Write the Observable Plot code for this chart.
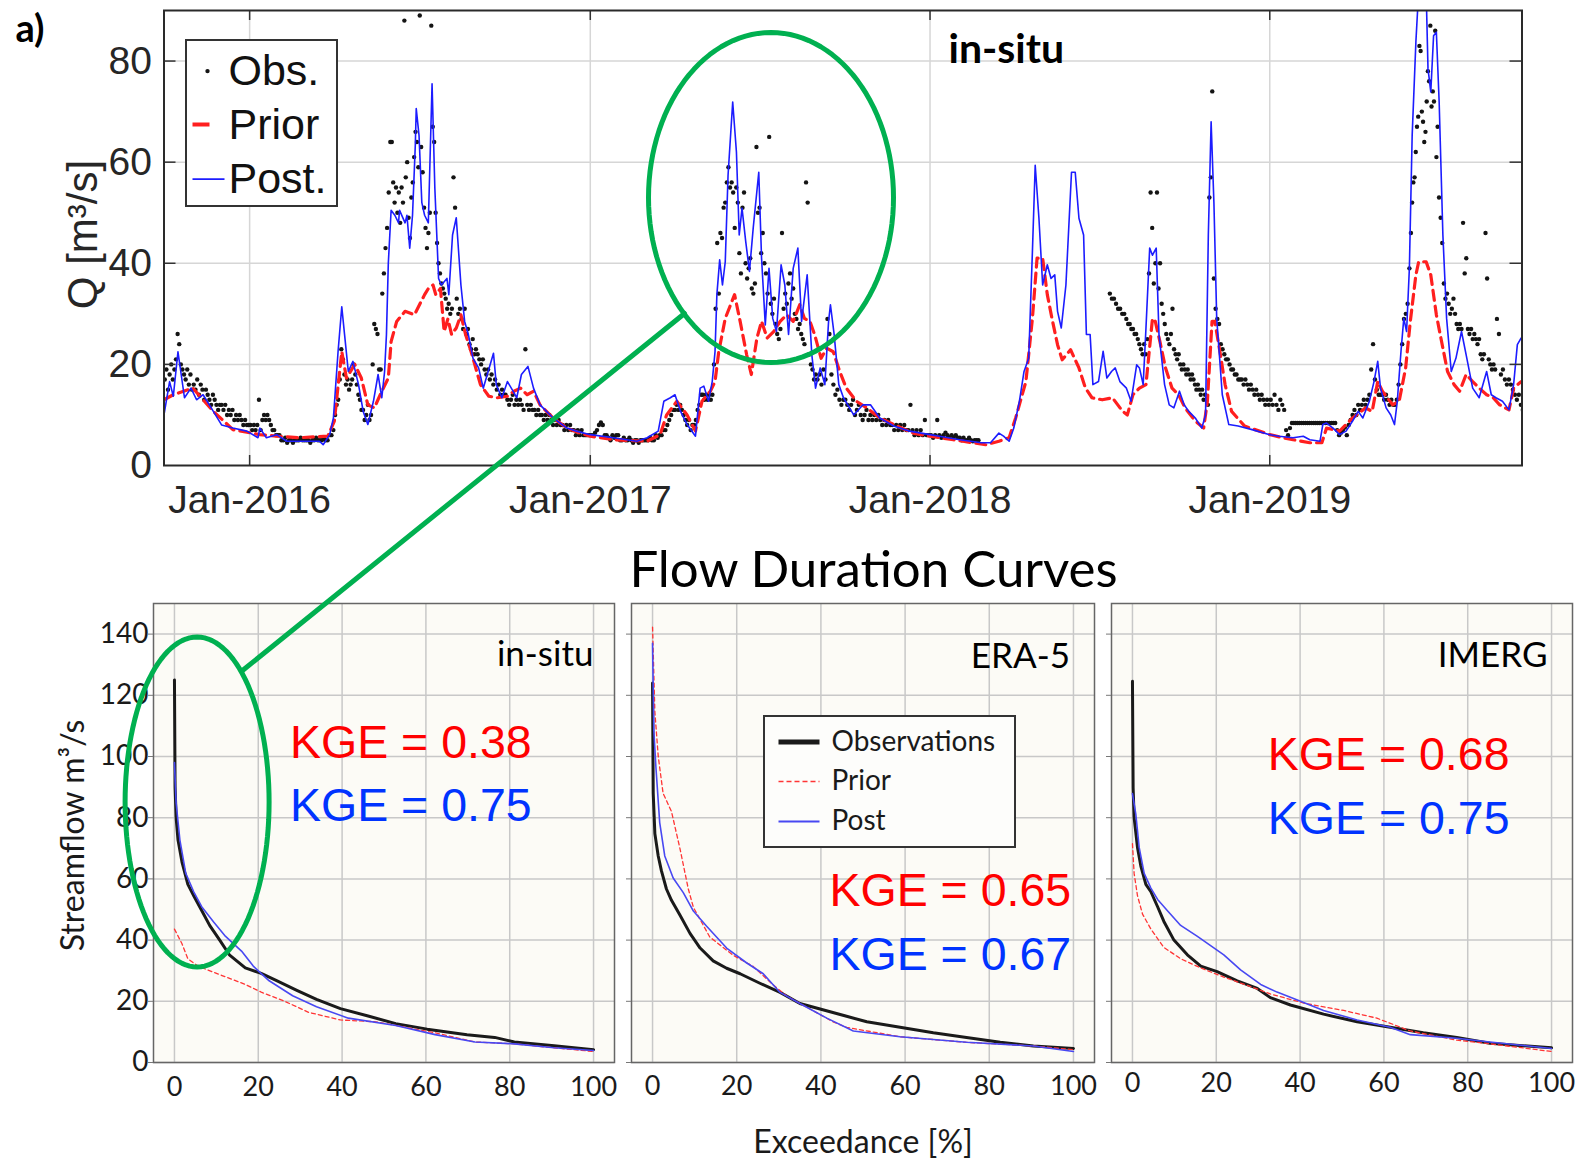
<!DOCTYPE html>
<html>
<head>
<meta charset="utf-8">
<script src="https://cdn.jsdelivr.net/npm/d3@7"></script>
<script src="https://cdn.jsdelivr.net/npm/@observablehq/plot@0.6"></script>
<style>
  html, body { margin: 0; padding: 0; background: #ffffff; }
  #page { position: relative; width: 1582px; height: 1161px; overflow: hidden; background: #ffffff; }
  #page svg { position: absolute; }
</style>
</head>
<body>
<div id="page"></div>
<script>
// ---------------------------------------------------------------
// Daily streamflow at the gauge, water years 2016-2019 (m3/s)
// ---------------------------------------------------------------

// Observed flow, one row per month from Oct 2015 to Sep 2019,
// values spread evenly through the month (null / empty = no record)
const obsFirstMonth = "2015-10-01";
const obsByMonth = [
  [17, 19, 15, 18, 20, 17, 19, 21, 26, 24, 20, 19, 18, 17, 19, 16, 18, 15],        // 2015-10
  [16, 15, 17, 14, 16, 15, 13, 15, 14, 13, 12, 14, 13, 12, 11, 12],                // 2015-11
  [12, 11, 12, 10, 11, 10, 11, 9, 10, 9, 10, 9, 8, 9, 8, 8],                       // 2015-12
  [8, 7, 8, 7, 8, 13, 7, 9, 10, 9, 10, 9, 8, 7, 7, 6, 6],                          // 2016-01
  [6, 5, 5, 5.5, 4.5, 5, 5, 4.5, 5, 5, 5, 5.5, 5, 5],                              // 2016-02
  [5, 5, 4.5, 5, 5, 5.5, 5, 5, 5, 5.5, 5, 5, 6, 6, 7],                             // 2016-03
  [10, 12, 13, 17, 23, 21, 18, 16, 17, 15, 16, 17, 20, 18, 16, 14, 13, 11],        // 2016-04
  [11, 9, 10, 12, 9, 10, 20, 28, 27, 26, 19, 19, 34, 38, 43, 47, 54, 64],          // 2016-05
  [64, 56, 52, 55, 50, 54, 48, 55, 52, 88, 57, 60, 49, 45, 53, 56, 61, 66, 64, 59], // 2016-06
  [89, 63, 58, 51, 47, 43, 46, 50, 87, 67, 64, 50, 44, 40, 38, 36, 35, 34, 33, 31], // 2016-07
  [32, 30, 31, 57, 51, 33, 30, 31, 29, 27, 31, 26, 27, 24, 23, 25, 22, 23],        // 2016-08
  [22, 21, 20, 21, 19, 18, 19, 17, 18, 16, 17, 15, 16, 14, 15, 14],                // 2016-09
  [14, 13, 12, 13, 14, 12, 13, 12, 13, 12, 11, 23, 12, 11, 12, 11],                // 2016-10
  [11, 10, 11, 10, 10, 9, 10, 9, 10, 9, 8, 9, 8, 9, 8],                            // 2016-11
  [8, 7, 8, 7, 8, 7, 7, 6, 7, 6, 7, 6, 6, 6, 6],                                   // 2016-12
  [6, 6, 6.5, 7, 8, 8.5, 8, 6, 6, 5.5, 5, 6, 5.5, 6, 6],                           // 2017-01
  [5, 5, 5.5, 5, 5, 5.5, 5, 4.5, 5, 5, 4.5, 5, 5, 5],                              // 2017-02
  [5, 5, 5.5, 5, 5, 6, 5.5, 6, 6, 7, 7, 8, 9, 10, 11],                             // 2017-03
  [11, 12, 11, 12, 11, 10, 9, 8, 9, 7, 8, 8, 9, 11, 12, 14],                       // 2017-04
  [14, 13, 14, 13, 14, 13, 14, 20, 31, 44, 34, 46, 45, 51, 52, 56, 59, 55],        // 2017-05
  [56, 54, 47, 55, 52, 42, 38, 51, 54, 40, 37, 39, 41, 35, 34, 36, 63, 50],        // 2017-06
  [51, 42, 46, 40, 38, 34, 65, 32, 30, 33, 28, 26, 25, 27, 46, 31, 34, 32],        // 2017-07
  [36, 38, 33, 35, 30, 29, 27, 28, 26, 25, 24, 56, 52, 22, 20, 19, 17, 18],        // 2017-08
  [17, 18, 16, 19, 17, 29, 26, 18, 16, 14, 15, 13, 12, 13],                        // 2017-09
  [13, 12, 11, 12, 13, 10, 11, 12, 10, 9, 10, 11, 9, 10, 9],                       // 2017-10
  [10, 9, 10, 9, 8, 9, 8, 9, 8, 8, 7, 8, 7, 8],                                    // 2017-11
  [7, 8, 7, 7, 12, 7, 6, 7, 6, 7, 6, 9, 6, 6],                                     // 2017-12
  [6, 5.5, 6, 9, 6, 5.5, 6, 6.5, 6, 5.5, 6, 5.5, 6, 5.5],                          // 2018-01
  [5.5, 5, 5.5, 5, 5, 5.5, 5, 4.8, 5, 5, 5, null, null, null],                     // 2018-02
  [],                                                                              // 2018-03
  [],                                                                              // 2018-04
  [],                                                                              // 2018-05
  [],                                                                              // 2018-06
  [null, null, null, null, null, 34, 33, 33, 32, 31, 31, 30, 30, 29],              // 2018-07
  [28, 28, 27, 27, 26, 26, 25, 24, 23, 22, 24, 22, 25, 38, 54, 47, 36, 40],        // 2018-08
  [54, 35, 40, 32, 30, 28, 26, 25, 24, 26, 31, 23, 22, 21, 22, 20, 19, 20],        // 2018-09
  [19, 18, 19, 18, 17, 18, 17, 16, 15, 16, 15, 14, 15, 13, 14, 13, 12, 53, 57, 74], // 2018-10
  [37, 31, 29, 28, 24, 23, 22, 21, 21, 20, 19, 19, 18, 18, 17, 17],                // 2018-11
  [17, 16, 17, 16, 15, 16, 15, 14, 15, 14, 13, 14, 13, 12, 13, 12],                // 2018-12
  [13, 12, 14, 12, 11, 13, 12, 11, 7, 6, 7.4, 8.4, 8.4, 8.4, 8.4],                 // 2019-01
  [8.4, 8.4, 8.4, 8.4, 8.4, 8.4, 8.4, 8.4, 8.4, 8.4, 8.4, 8.4, 8.4],               // 2019-02
  [8.4, 8.4, 8.4, 8.4, 8.4, 8.4, 7, 6, 6.5, 7, 7.5, 6, 8, 9, 10],                  // 2019-03
  [11, 10, 12, 11, 12, 13, 12, 13, 14, 19, 24, 17, 15, 14, 14],                    // 2019-04
  [14, 13, 14, 13, 12, 13, 12, 12, 13, 16, 20, 24, 29, 30, 32, 39],                // 2019-05
  [46, 52, 56, 57, 62, 67, 69, 83, 82, 70, 68, 64, 66, 72, 78, 76, 87, 71, 74, 72, 86, 61, 67], // 2019-06
  [53, 49, 44, 36, 33, 34, 32, 30, 31, 33, 30, 28, 27, 28, 27, 48, 38, 41],        // 2019-07
  [27, 26, 27, 25, 26, 25, 24, 25, 22, 21, 22, 46, 37, 21, 20, 19, 20, 19],        // 2019-08
  [29, 26, 18, 19, 17, 16, 17, 16, 15, 14, 13, 14, 12, 11]                         // 2019-09
];

// Open-loop model run (prior)
const priorPts = [
  ["2015-10-01", 13], ["2015-10-11", 14], ["2015-11-01", 15.3], ["2015-11-23", 10.7],
  ["2015-12-14", 7.1], ["2016-01-12", 6.1], ["2016-01-30", 5.8], ["2016-02-24", 5.5],
  ["2016-03-25", 5.8], ["2016-04-01", 8.8], ["2016-04-09", 22.5], ["2016-04-14", 17.3],
  ["2016-04-23", 20], ["2016-04-30", 17.3], ["2016-05-07", 12], ["2016-05-14", 11.4],
  ["2016-05-22", 14.7], ["2016-05-29", 17.3], ["2016-06-01", 24.5], ["2016-06-07", 28.5],
  ["2016-06-16", 30.5], ["2016-06-26", 29.8], ["2016-07-07", 33.8], ["2016-07-11", 35],
  ["2016-07-16", 35.7], ["2016-07-19", 33.8], ["2016-07-24", 35], ["2016-07-28", 26.5],
  ["2016-08-01", 29], ["2016-08-05", 25.9], ["2016-08-10", 27.2], ["2016-08-15", 29.8],
  ["2016-08-20", 25.9], ["2016-08-26", 22.5], ["2016-09-05", 16], ["2016-09-14", 13.7],
  ["2016-09-23", 13.4], ["2016-10-04", 13.7], ["2016-10-11", 14.7], ["2016-10-18", 15.3],
  ["2016-10-25", 14], ["2016-11-01", 14.7], ["2016-11-08", 12], ["2016-11-22", 9.4],
  ["2016-12-07", 7.4], ["2016-12-21", 6.4], ["2017-01-01", 5.8], ["2017-01-26", 5.1],
  ["2017-03-03", 4.8], ["2017-03-17", 6.1], ["2017-03-24", 10], ["2017-04-04", 12.7],
  ["2017-04-15", 10], ["2017-04-24", 6.8], ["2017-05-01", 12.7], ["2017-05-10", 14.7],
  ["2017-05-15", 16.6], ["2017-05-19", 22.5], ["2017-05-26", 29.1], ["2017-06-02", 32.4],
  ["2017-06-05", 33.8], ["2017-06-11", 28.5], ["2017-06-18", 21.9], ["2017-06-23", 18],
  ["2017-06-29", 25.2], ["2017-07-04", 28.5], ["2017-07-10", 25.2], ["2017-07-17", 26.5],
  ["2017-07-24", 28.5], ["2017-07-31", 29.8], ["2017-08-07", 28.5], ["2017-08-14", 31.8],
  ["2017-08-19", 29.1], ["2017-08-25", 28.5], ["2017-08-30", 25.9], ["2017-09-06", 21.2],
  ["2017-09-12", 23.2], ["2017-09-19", 22.5], ["2017-09-26", 18.6], ["2017-10-03", 15.3],
  ["2017-10-14", 12.7], ["2017-10-25", 11.4], ["2017-11-08", 9.4], ["2017-11-23", 8.1],
  ["2017-12-14", 6.4], ["2018-01-01", 5.8], ["2018-01-26", 5.1], ["2018-03-02", 4.1],
  ["2018-03-16", 4.8], ["2018-03-27", 5.5], ["2018-04-03", 9.4], ["2018-04-14", 16.6],
  ["2018-04-21", 29.1], ["2018-04-26", 41], ["2018-05-02", 41], ["2018-05-07", 33.8],
  ["2018-05-12", 29.1], ["2018-05-18", 23.9], ["2018-05-23", 20.9], ["2018-06-01", 22.9],
  ["2018-06-10", 19.3], ["2018-06-17", 15.3], ["2018-06-24", 13.4], ["2018-07-05", 13],
  ["2018-07-16", 13.4], ["2018-07-27", 10.7], ["2018-08-01", 10], ["2018-08-07", 14],
  ["2018-08-14", 15.3], ["2018-08-21", 16], ["2018-08-28", 29.1], ["2018-08-31", 28.5],
  ["2018-09-05", 24.5], ["2018-09-11", 19.3], ["2018-09-18", 15.3], ["2018-09-25", 14],
  ["2018-10-02", 11.4], ["2018-10-13", 8.8], ["2018-10-22", 7.4], ["2018-10-26", 12.7],
  ["2018-10-31", 28.5], ["2018-11-03", 28.5], ["2018-11-09", 21.9], ["2018-11-14", 16],
  ["2018-11-21", 10.7], ["2018-12-05", 7.8], ["2019-01-01", 6.1], ["2019-01-15", 5.5],
  ["2019-01-26", 5.1], ["2019-02-13", 4.5], ["2019-02-26", 4.5], ["2019-03-03", 7.4],
  ["2019-03-17", 6.8], ["2019-03-31", 9.4], ["2019-04-14", 11.4], ["2019-04-21", 10.7],
  ["2019-04-27", 16.6], ["2019-05-02", 14.7], ["2019-05-13", 12], ["2019-05-20", 12.7],
  ["2019-05-27", 19.3], ["2019-06-01", 28.5], ["2019-06-07", 37.7], ["2019-06-10", 40.3],
  ["2019-06-18", 40.3], ["2019-06-23", 37.7], ["2019-06-29", 29.8], ["2019-07-06", 23.2],
  ["2019-07-11", 18.6], ["2019-07-18", 16], ["2019-07-24", 14.7], ["2019-07-31", 18],
  ["2019-08-07", 16.6], ["2019-08-14", 15.3], ["2019-08-22", 14], ["2019-08-29", 13.4],
  ["2019-09-05", 12], ["2019-09-15", 11], ["2019-09-20", 15.3], ["2019-09-28", 16.6]
];

// Run after data assimilation (posterior)
const postPts = [
  ["2015-10-01", 10], ["2015-10-07", 16.6], ["2015-10-11", 13.7], ["2015-10-16", 22.5],
  ["2015-10-23", 13.4], ["2015-10-30", 15.3], ["2015-11-05", 13], ["2015-11-12", 14],
  ["2015-11-23", 10.7], ["2015-12-02", 8], ["2015-12-14", 7.4], ["2015-12-29", 6.8],
  ["2016-01-10", 5.5], ["2016-01-12", 7.4], ["2016-01-19", 5.5], ["2016-01-30", 6.1],
  ["2016-02-10", 4.8], ["2016-03-16", 4.8], ["2016-03-20", 4.1], ["2016-03-27", 6.1],
  ["2016-03-31", 9.4], ["2016-04-05", 22.5], ["2016-04-09", 31.4], ["2016-04-12", 25.9],
  ["2016-04-16", 18.6], ["2016-04-21", 20.6], ["2016-04-27", 16], ["2016-05-02", 10.7],
  ["2016-05-07", 8.1], ["2016-05-13", 12.7], ["2016-05-18", 18], ["2016-05-22", 13.4],
  ["2016-05-25", 18.6], ["2016-05-27", 25.9], ["2016-05-29", 40], ["2016-06-01", 50.5],
  ["2016-06-05", 49.5], ["2016-06-09", 48], ["2016-06-10", 50.5], ["2016-06-16", 48],
  ["2016-06-18", 49.5], ["2016-06-21", 43], ["2016-06-24", 49.5], ["2016-06-27", 63.4],
  ["2016-06-28", 70.6], ["2016-07-01", 65.3], ["2016-07-04", 52], ["2016-07-07", 49.5],
  ["2016-07-11", 48], ["2016-07-15", 75.5], ["2016-07-18", 54.8], ["2016-07-22", 37],
  ["2016-07-25", 35.7], ["2016-07-31", 37], ["2016-08-02", 33.8], ["2016-08-06", 45.6],
  ["2016-08-10", 49], ["2016-08-15", 35.7], ["2016-08-19", 28.5], ["2016-08-23", 25.9],
  ["2016-08-28", 21.2], ["2016-09-03", 19.3], ["2016-09-08", 15.3], ["2016-09-19", 22.2],
  ["2016-09-22", 16], ["2016-09-28", 13.4], ["2016-10-04", 16.6], ["2016-10-10", 14.7],
  ["2016-10-14", 13.4], ["2016-10-19", 18], ["2016-10-26", 19.6], ["2016-11-01", 15.3],
  ["2016-11-08", 12], ["2016-11-15", 10.7], ["2016-11-22", 9.4], ["2016-12-07", 7.4],
  ["2016-12-17", 6.8], ["2017-01-01", 6.1], ["2017-01-26", 5.5], ["2017-02-20", 4.8],
  ["2017-03-03", 5.5], ["2017-03-15", 6.8], ["2017-03-21", 12.7], ["2017-03-28", 13.4],
  ["2017-04-02", 14], ["2017-04-08", 10.7], ["2017-04-15", 8.1], ["2017-04-24", 5.8],
  ["2017-04-29", 15.3], ["2017-05-03", 15.7], ["2017-05-08", 12.7], ["2017-05-12", 16.6],
  ["2017-05-15", 22.5], ["2017-05-17", 33.8], ["2017-05-20", 40.7], ["2017-05-23", 35.7],
  ["2017-05-26", 40.3], ["2017-05-29", 57.4], ["2017-06-03", 71.9], ["2017-06-07", 62],
  ["2017-06-10", 45.6], ["2017-06-13", 50.9], ["2017-06-17", 44.3], ["2017-06-21", 38.4],
  ["2017-06-25", 46.9], ["2017-07-01", 58], ["2017-07-04", 41], ["2017-07-08", 27.8],
  ["2017-07-12", 39], ["2017-07-16", 29.1], ["2017-07-20", 26.5], ["2017-07-25", 39.7],
  ["2017-07-29", 35.7], ["2017-08-02", 25.9], ["2017-08-07", 39], ["2017-08-12", 43],
  ["2017-08-16", 28.5], ["2017-08-22", 37.7], ["2017-08-27", 21.9], ["2017-08-31", 15.3],
  ["2017-09-05", 19.3], ["2017-09-10", 16], ["2017-09-14", 28.5], ["2017-09-16", 31.8],
  ["2017-09-20", 25.9], ["2017-09-25", 16], ["2017-09-30", 13.4], ["2017-10-11", 10],
  ["2017-10-21", 12], ["2017-10-29", 12], ["2017-11-08", 9.4], ["2017-11-23", 7.8],
  ["2017-12-10", 6.8], ["2018-01-01", 6.1], ["2018-01-11", 5.8], ["2018-02-02", 5.1],
  ["2018-02-25", 4.5], ["2018-03-07", 4.5], ["2018-03-16", 6.4], ["2018-03-21", 5.8],
  ["2018-03-27", 4.8], ["2018-04-01", 7.4], ["2018-04-07", 12.7], ["2018-04-12", 18.6],
  ["2018-04-17", 21.2], ["2018-04-21", 42.3], ["2018-04-24", 59.4], ["2018-04-28", 48.9],
  ["2018-05-02", 35.7], ["2018-05-07", 39.7], ["2018-05-11", 37], ["2018-05-15", 37.7],
  ["2018-05-18", 30.5], ["2018-05-22", 27.2], ["2018-05-27", 35.7], ["2018-06-02", 58],
  ["2018-06-06", 58], ["2018-06-10", 48.9], ["2018-06-15", 45.6], ["2018-06-18", 25.9],
  ["2018-06-22", 25.9], ["2018-06-25", 16], ["2018-07-01", 16.6], ["2018-07-06", 22.6],
  ["2018-07-10", 17.3], ["2018-07-15", 18.6], ["2018-07-19", 19.3], ["2018-07-24", 16.6],
  ["2018-07-31", 15.3], ["2018-08-05", 12.7], ["2018-08-11", 19.9], ["2018-08-14", 19.3],
  ["2018-08-18", 16], ["2018-08-21", 27.2], ["2018-08-25", 43], ["2018-08-28", 41.6],
  ["2018-09-01", 43], ["2018-09-04", 25.9], ["2018-09-10", 16], ["2018-09-15", 12],
  ["2018-09-20", 11.4], ["2018-09-26", 14.7], ["2018-10-01", 12], ["2018-10-06", 10.7],
  ["2018-10-13", 9.4], ["2018-10-20", 7.4], ["2018-10-24", 10], ["2018-10-27", 45.6],
  ["2018-10-30", 68], ["2018-11-02", 52], ["2018-11-05", 29.1], ["2018-11-11", 14],
  ["2018-11-18", 8.1], ["2018-11-28", 7.8], ["2018-12-13", 7.1], ["2019-01-01", 6.1],
  ["2019-01-11", 5.8], ["2019-01-26", 5.5], ["2019-02-06", 5.8], ["2019-02-13", 5.1],
  ["2019-02-24", 4.8], ["2019-02-27", 8.1], ["2019-03-03", 8.4], ["2019-03-10", 7.4],
  ["2019-03-17", 6.1], ["2019-03-24", 6.8], ["2019-03-31", 8.8], ["2019-04-06", 10.7],
  ["2019-04-11", 9.4], ["2019-04-18", 12.7], ["2019-04-23", 16.6], ["2019-04-27", 20.6],
  ["2019-04-30", 15.3], ["2019-05-06", 11.4], ["2019-05-11", 10], ["2019-05-15", 8.1],
  ["2019-05-18", 12.7], ["2019-05-22", 22.6], ["2019-05-25", 29.1], ["2019-05-28", 26.5],
  ["2019-05-31", 39], ["2019-06-03", 65.3], ["2019-06-07", 83.8], ["2019-06-10", 94],
  ["2019-06-18", 94], ["2019-06-20", 78.5], ["2019-06-23", 73.9], ["2019-06-26", 85],
  ["2019-06-29", 85.7], ["2019-07-02", 71.9], ["2019-07-06", 45.6], ["2019-07-10", 29.1],
  ["2019-07-15", 18.6], ["2019-07-20", 21.2], ["2019-07-26", 26.5], ["2019-07-31", 21.9],
  ["2019-08-07", 15.3], ["2019-08-14", 13.4], ["2019-08-22", 18.6], ["2019-08-27", 14],
  ["2019-09-01", 13.4], ["2019-09-08", 12.7], ["2019-09-15", 11], ["2019-09-20", 16],
  ["2019-09-24", 23.9], ["2019-09-28", 25.2]
];

const seriesXDomain = ["2015-10-01", "2019-09-29"];
const seriesYDomain = [0, 90];
const seriesXTicks = ["2016-01-01", "2017-01-01", "2018-01-01", "2019-01-01"];
const seriesYTicks = [0, 20, 40, 60, 80];

// ---------------------------------------------------------------
// Flow duration curves: [exceedance %, streamflow m3/s]
// ---------------------------------------------------------------
const fdcInSituObs = [[0,125],[0.15,90],[0.4,80],[0.85,72.7],[1.8,65.5],[3.2,58.2],[4.6,54.5],[6.5,49.7],[8.4,44.8],[10.8,40],[13.1,35.2],[16.9,30.9],[20.7,29.1],[24.5,26.7],[29.2,23.6],[33.9,20.6],[39.6,17.6],[46.2,15.2],[52.8,12.7],[60.3,10.9],[69.8,9.1],[76.4,8.2],[81.1,6.7],[90.6,5.5],[100,4.2]];
const fdcInSituPrior = [[0,43.6],[1.8,38.8],[3.2,33.9],[5.6,31.5],[11.2,28.5],[16.9,25.5],[20.7,23],[26.3,20],[32,16.4],[39.6,13.9],[48.1,13.3],[57.5,10.9],[62.2,9.7],[71.7,6.7],[81.1,6.1],[90.6,4.8],[100,3.6]];
const fdcInSituPost = [[0,98],[0.4,84.8],[1.3,72.7],[2.7,61.8],[4.6,55.8],[6.5,50.9],[9.3,46],[12.2,41.2],[16,36.4],[18.8,31.5],[22.6,26.7],[28.2,21.8],[33.9,18.2],[41.5,14.5],[52.8,12.1],[62.2,9.1],[71.7,6.7],[81.1,6.1],[90.6,4.8],[100,3.9]];

const fdcEra5Obs = [[0,124],[0.16,88],[0.55,74.8],[1.35,67.5],[2.1,62.7],[3.3,56.7],[4.5,53],[6.5,48.2],[8.9,42.2],[11.3,37.4],[14.4,33.2],[17.6,30.8],[20.8,29],[25.5,25.9],[30.3,22.9],[35,19.3],[39.8,17.5],[46.1,15.1],[50.9,13.3],[58.8,11.5],[66.7,9.7],[74.6,8.2],[82.6,6.6],[90.5,5.4],[100,4.6]];
const fdcEra5Prior = [[0,142.3],[0.55,114.6],[1.35,100.1],[2.5,88],[4.5,82],[6.5,70],[8.5,56.7],[9.7,50.7],[13.6,41],[19.2,35],[23.9,31.4],[28.7,25.3],[31.9,21.7],[36.6,18.1],[42.9,13.3],[46.1,11.5],[58.8,8.4],[74.6,6.6],[90.5,5.4],[100,4.2]];
const fdcEra5Post = [[0,137],[0.3,108.6],[0.8,96.5],[1.7,78.4],[2.9,67.5],[4.9,60.3],[7.3,55.5],[9.7,49.5],[12.8,44.6],[17.6,37.4],[22.3,32.6],[26.3,29],[30.3,22.9],[35,19.3],[41.4,14.5],[47.7,10.3],[58.8,8.4],[74.6,6.6],[90.5,5.4],[100,3.6]];

const fdcImergObs = [[0,124.6],[0.16,89.7],[0.4,80],[1.2,70.3],[2,64.2],[3.2,58.2],[4.4,55.8],[6,50.9],[7.5,46.1],[9.9,40],[13.1,35.2],[16.3,31.5],[20.2,29.7],[25,26.7],[29.8,24.2],[32.9,21.2],[37.7,18.8],[45.6,15.8],[53.6,13.3],[61.5,11.5],[69.4,9.7],[77.4,8.2],[85.3,6.3],[100,4.8]];
const fdcImergPrior = [[0,71.5],[0.4,61.8],[1.2,54.5],[2.4,48.5],[4.4,43.6],[7.5,37.6],[11.5,33.9],[16.3,30.9],[21.8,27.9],[28.2,24.8],[32.9,22.4],[40.9,19.4],[50.4,17],[58.3,14.5],[66.3,10.3],[77.4,7.3],[85.3,6.1],[100,3.6]];
const fdcImergPost = [[0,87.9],[0.8,81.2],[1.6,70.3],[2.8,61.8],[4.4,57],[6,53.3],[8.3,49.7],[11.5,44.8],[15.5,41.2],[21.8,35.2],[25.8,30.3],[30.6,25.5],[34.5,23],[40.1,20],[45.6,17],[53.6,13.9],[61.5,11.5],[66.3,9.1],[77.4,7.9],[85.3,6.7],[100,4.6]];

const fdcNames = ["in-situ", "ERA-5", "IMERG"];
const kgePrior = ["0.38", "0.65", "0.68"];
const kgePost = ["0.75", "0.67", "0.75"];
const exceedTicks = [0, 20, 40, 60, 80, 100];
const flowTicks = [0, 20, 40, 60, 80, 100, 120, 140];

// ---------------------------------------------------------------
const page = document.getElementById("page");
const HELV = "'Liberation Sans', Arial, Helvetica, sans-serif";
const LATO = "Lato, 'Open Sans', sans-serif";
const C_OBS = "#141414", C_PRIOR = "#ff1f1f", C_POST = "#1c1cff";

function place(svg, left, top) {
  svg.style.left = left + "px";
  svg.style.top = top + "px";
  page.appendChild(svg);
}

// ---------- time series panel ----------
const obs = obsByMonth.flatMap((vals, k) => {
  const m0 = d3.utcMonth.offset(new Date(obsFirstMonth), k);
  const m1 = d3.utcMonth.offset(new Date(obsFirstMonth), k + 1);
  return vals.map((v, i) => ({date: new Date(+m0 + (i + 0.5) / vals.length * (m1 - m0)), q: v}))
             .filter(d => d.q != null);
});
const prior = priorPts.map(([d, v]) => ({date: new Date(d), q: v}));
const post = postPts.map(([d, v]) => ({date: new Date(d), q: v}));
const xTicks = seriesXTicks.map(d => new Date(d));

const TS = {left: 163.5, top: 10, w: 1358, h: 455};
const tsPlot = Plot.plot({
  width: 1582, height: 540,
  marginLeft: TS.left, marginRight: 1582 - TS.left - TS.w, marginTop: TS.top, marginBottom: 540 - TS.top - TS.h,
  style: {fontFamily: HELV, fontSize: "39px", color: "#262626", background: "transparent", overflow: "visible"},
  x: {type: "utc", domain: seriesXDomain.map(d => new Date(d)), label: null},
  y: {domain: seriesYDomain, label: null},
  marks: [
    Plot.frame({fill: "#ffffff"}),
    Plot.gridX(xTicks, {stroke: "#d6d6d6", strokeOpacity: 1, strokeWidth: 1.5}),
    Plot.gridY(seriesYTicks.slice(1), {stroke: "#d6d6d6", strokeOpacity: 1, strokeWidth: 1.5}),
    Plot.dot(obs, {x: "date", y: "q", r: 2.2, fill: C_OBS, stroke: null, clip: true}),
    Plot.line(prior, {x: "date", y: "q", stroke: C_PRIOR, strokeWidth: 3.2, strokeDasharray: "10,6", clip: true}),
    Plot.line(post, {x: "date", y: "q", stroke: C_POST, strokeWidth: 1.6, clip: true}),
    // inward tick marks on all four sides
    Plot.tickY(seriesYTicks.slice(1), {y: d => d, insetRight: TS.w - 12, stroke: "#333", strokeWidth: 1.5}),
    Plot.tickY(seriesYTicks.slice(1), {y: d => d, insetLeft: TS.w - 12, stroke: "#333", strokeWidth: 1.5}),
    Plot.tickX(xTicks, {x: d => d, insetTop: TS.h - 10, stroke: "#333", strokeWidth: 1.5}),
    Plot.tickX(xTicks, {x: d => d, insetBottom: TS.h - 10, stroke: "#333", strokeWidth: 1.5}),
    Plot.frame({stroke: "#2a2a2a", strokeWidth: 2}),
    Plot.axisX({ticks: xTicks, tickSize: 0, tickPadding: 20, label: null, tickFormat: d3.utcFormat("%b-%Y")}),
    Plot.axisY({ticks: seriesYTicks, tickSize: 0, tickPadding: 12, label: null})
  ]
});
place(tsPlot, 0, 0);

// ---------- flow duration curve panels ----------
function fdcPanel(frame, curves, opts) {
  const mL = 40, mR = 10, mT = 10, mB = 50;
  const p = Plot.plot({
    width: frame.w + mL + mR, height: frame.h + mT + mB,
    marginLeft: mL, marginRight: mR, marginTop: mT, marginBottom: mB,
    style: {fontFamily: LATO, fontSize: "27px", color: "#1a1a1a", background: "transparent", overflow: "visible"},
    x: {domain: [-5, 105], label: null},
    y: {domain: [0, 150], label: null},
    marks: [
      Plot.frame({fill: "#fcfbf6"}),
      Plot.gridX(exceedTicks, {stroke: "#c8c8c8", strokeOpacity: 1, strokeWidth: 1.5}),
      Plot.gridY(flowTicks, {stroke: "#c8c8c8", strokeOpacity: 1, strokeWidth: 1.5}),
      Plot.line(curves.obs, {x: d => d[0], y: d => d[1], stroke: "#1a1a1a", strokeWidth: 3}),
      Plot.line(curves.prior, {x: d => d[0], y: d => d[1], stroke: "#ff3535", strokeWidth: 1.3, strokeDasharray: "4,3"}),
      Plot.line(curves.post, {x: d => d[0], y: d => d[1], stroke: "#4848f2", strokeWidth: 1.6}),
      Plot.frame({stroke: "#666666", strokeWidth: 1.5}),
      Plot.axisX({ticks: exceedTicks, tickSize: 0, tickPadding: opts.xPad, label: null}),
      Plot.axisY({ticks: flowTicks, tickSize: 5, tickPadding: 0, stroke: "#777", label: null,
                  fontSize: 28, tickFormat: opts.yLabels ? (d => d) : (() => "")})
    ]
  });
  place(p, frame.x - mL, frame.y - mT);
}

fdcPanel({x: 153, y: 603, w: 461, h: 459}, {obs: fdcInSituObs, prior: fdcInSituPrior, post: fdcInSituPost}, {yLabels: true, xPad: 14});
fdcPanel({x: 631, y: 603, w: 463, h: 459}, {obs: fdcEra5Obs, prior: fdcEra5Prior, post: fdcEra5Post}, {yLabels: false, xPad: 13});
fdcPanel({x: 1110.5, y: 603, w: 461, h: 459}, {obs: fdcImergObs, prior: fdcImergPrior, post: fdcImergPost}, {yLabels: false, xPad: 10});

// ---------- annotation layer (page pixel coordinates) ----------
const calloutEllipses = [
  {cx: 770.5, cy: 197, rx: 122.5, ry: 165},
  {cx: 196.6, cy: 801.5, rx: 72, ry: 165}
];
const calloutLink = [[684, 313], [242, 670]];

const ellipsePaths = calloutEllipses.flatMap((e, k) =>
  d3.range(0, 361, 3).map(a => ({k, x: e.cx + e.rx * Math.cos(a * Math.PI / 180), y: e.cy + e.ry * Math.sin(a * Math.PI / 180)})));

const note = (str, x, y, o) => Plot.text([str], {x: [x], y: [y], text: d => d, lineAnchor: "middle", ...o});
const seg = (x1, y1, x2, y2, o) => Plot.link([0], {x1: [x1], y1: [y1], x2: [x2], y2: [y2], ...o});

const panelLabelY = [654, 656, 655];
const panelLabelX = [593, 1069.5, 1547];
const kgeX = [289.5, 829, 1267.3];
const kgePriorY = [743, 891, 755];
const kgePostY = [806, 954.6, 818.5];

const overlay = Plot.plot({
  width: 1582, height: 1161, margin: 0,
  x: {domain: [0, 1582], axis: null},
  y: {domain: [1161, 0], axis: null},
  style: {background: "transparent", overflow: "visible"},
  marks: [
    // time-series legend
    Plot.rect([0], {x1: [186], x2: [337], y1: [40], y2: [206], fill: "#ffffff", stroke: "#333", strokeWidth: 2}),
    Plot.dot([0], {x: [207], y: [70.6], r: 2.2, fill: C_OBS}),
    seg(192, 124, 209, 124, {stroke: C_PRIOR, strokeWidth: 4}),
    seg(192, 178.6, 224, 178.6, {stroke: C_POST, strokeWidth: 1.8}),
    note("Obs.", 228, 71, {textAnchor: "start", fontFamily: HELV, fontSize: 43, fill: "#111"}),
    note("Prior", 228, 124.5, {textAnchor: "start", fontFamily: HELV, fontSize: 43, fill: "#111"}),
    note("Post.", 228, 179, {textAnchor: "start", fontFamily: HELV, fontSize: 43, fill: "#111"}),
    note("a)", 15, 29, {textAnchor: "start", fontFamily: LATO, fontWeight: "bold", fontSize: 38, fill: "#000"}),
    note("in-situ", 948, 49, {textAnchor: "start", fontFamily: LATO, fontWeight: "bold", fontSize: 41, fill: "#000"}),
    note("Q [m³/s]", 83, 234, {rotate: -90, textAnchor: "middle", fontFamily: HELV, fontSize: 42, fill: "#262626"}),

    // duration-curve titles
    note("Flow Duration Curves", 873, 570, {textAnchor: "middle", fontFamily: LATO, fontSize: 51, fill: "#000"}),
    note("Exceedance [%]", 862.6, 1142, {textAnchor: "middle", fontFamily: LATO, fontSize: 32, fill: "#1a1a1a"}),
    note("Streamflow m³/s", 73, 835, {rotate: -90, textAnchor: "middle", fontFamily: LATO, fontSize: 32, fill: "#1a1a1a"}),
    ...fdcNames.map((t, i) => note(t, panelLabelX[i], panelLabelY[i], {textAnchor: "end", fontFamily: LATO, fontSize: 35, fill: "#000"})),
    ...kgePrior.map((t, i) => note(`KGE = ${t}`, kgeX[i], kgePriorY[i], {textAnchor: "start", fontFamily: HELV, fontSize: 46.5, fill: "#ff0000"})),
    ...kgePost.map((t, i) => note(`KGE = ${t}`, kgeX[i], kgePostY[i], {textAnchor: "start", fontFamily: HELV, fontSize: 46.5, fill: "#0033ff"})),

    // duration-curve legend
    Plot.rect([0], {x1: [764], x2: [1015], y1: [716], y2: [847], fill: "#fdfdfb", stroke: "#333", strokeWidth: 2}),
    seg(778, 741.5, 819, 741.5, {stroke: "#1a1a1a", strokeWidth: 5}),
    seg(778, 781, 819, 781, {stroke: "#ff3535", strokeWidth: 1.6, strokeDasharray: "5,3"}),
    seg(778, 821, 819, 821, {stroke: "#4848f2", strokeWidth: 2.2}),
    note("Observations", 831, 741.5, {textAnchor: "start", fontFamily: LATO, fontSize: 28, fill: "#1a1a1a"}),
    note("Prior", 831, 781, {textAnchor: "start", fontFamily: LATO, fontSize: 28, fill: "#1a1a1a"}),
    note("Post", 831, 821, {textAnchor: "start", fontFamily: LATO, fontSize: 28, fill: "#1a1a1a"}),

    // green call-out linking the 2017 high-flow season to the curve head
    Plot.line(ellipsePaths, {x: "x", y: "y", z: "k", stroke: "#00b050", strokeWidth: 5}),
    Plot.line(calloutLink, {x: d => d[0], y: d => d[1], stroke: "#00b050", strokeWidth: 5})
  ]
});
overlay.style.pointerEvents = "none";
place(overlay, 0, 0);
</script>
</body>
</html>
